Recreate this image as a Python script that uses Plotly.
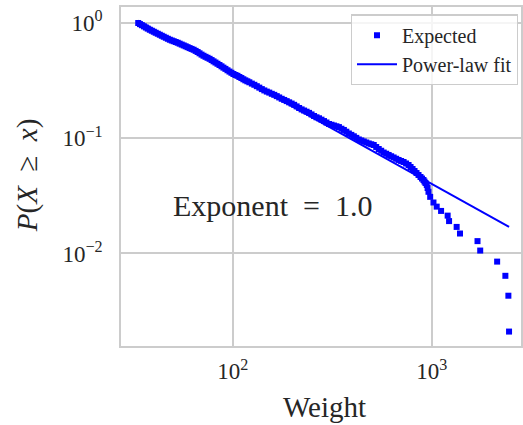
import numpy as np
import plotly.graph_objects as go

# Empirical complementary CDF of edge weights
weight = [33.5, 34.2, 34.95, 35.8, 36.6, 37.4, 38.3, 39.2, 40.1, 41.0,
          42.0, 43.0, 44.0, 45.0, 46.1, 47.2, 48.3, 49.4, 50.5, 51.7,
          52.9, 54.1, 55.4, 56.7, 58.0, 59.3, 60.7, 62.1, 63.6, 65.1,
          66.6, 68.1, 69.7, 71.3, 73.0, 74.7, 76.5, 78.3, 80.1, 81.9,
          83.8, 85.8, 87.8, 89.8, 91.9, 94.1, 96.3, 98.5, 100.8, 103.2,
          105.6, 108.0, 110.5, 113.1, 115.7, 118.4, 121.2, 124.7, 128.4, 132.1,
          136.0, 140.0, 144.1, 148.3, 152.6, 157.1, 161.7, 166.4, 171.2, 176.2,
          181.4, 186.7, 192.1, 197.7, 203.5, 209.5, 215.6, 221.9, 228.3, 235.0,
          241.8, 248.9, 256.2, 263.6, 271.3, 279.2, 287.4, 295.8, 304.5, 313.4,
          322.5, 331.9, 341.6, 351.6, 361.8, 372.3, 383.2, 394.4, 406.0, 417.8,
          430.0, 442.6, 455.5, 468.8, 482.5, 496.6, 511.1, 526.0, 541.4, 557.2,
          573.5, 590.3, 607.5, 625.2, 643.5, 662.3, 681.6, 701.5, 722.0, 743.1,
          764.8, 782.6, 800.8, 819.4, 838.5, 858.0, 878.0, 893.3, 908.9, 919.4,
          930.1, 944, 953, 963, 982, 1020, 1059, 1114, 1202, 1222,
          1334, 1387, 1698, 1752, 2131, 2344, 2427, 2446]
ccdf = [1.0, 0.978, 0.957, 0.935, 0.914, 0.894, 0.874, 0.857, 0.840, 0.823,
        0.807, 0.791, 0.775, 0.760, 0.745, 0.730, 0.716, 0.705, 0.695, 0.684,
        0.674, 0.662, 0.650, 0.639, 0.628, 0.617, 0.606, 0.596, 0.586, 0.573,
        0.560, 0.546, 0.532, 0.520, 0.509, 0.499, 0.489, 0.477, 0.465, 0.454,
        0.443, 0.432, 0.421, 0.410, 0.400, 0.389, 0.379, 0.370, 0.361, 0.354,
        0.348, 0.340, 0.333, 0.325, 0.318, 0.312, 0.306, 0.298, 0.291, 0.283,
        0.275, 0.267, 0.260, 0.254, 0.249, 0.243, 0.238, 0.232, 0.226, 0.220,
        0.215, 0.210, 0.205, 0.200, 0.195, 0.189, 0.183, 0.178, 0.174, 0.170,
        0.166, 0.161, 0.156, 0.152, 0.149, 0.145, 0.141, 0.137, 0.133, 0.131,
        0.129, 0.127, 0.125, 0.121, 0.118, 0.114, 0.110, 0.107, 0.104, 0.1008,
        0.0976, 0.0957, 0.0938, 0.0919, 0.0901, 0.0887, 0.0874, 0.0840, 0.0807, 0.0779,
        0.0752, 0.0734, 0.0716, 0.0698, 0.0681, 0.0664, 0.0648, 0.0635, 0.0622, 0.0604,
        0.0586, 0.0563, 0.0541, 0.0520, 0.0499, 0.0480, 0.0461, 0.0447, 0.0434, 0.0421,
        0.0409, 0.0393, 0.0370, 0.0343, 0.0310, 0.0277, 0.0255, 0.0234, 0.0213, 0.0191,
        0.0170, 0.0149, 0.0128, 0.0106, 0.0085, 0.0064, 0.0043, 0.0021]

# Power-law fit of the CCDF: P(X >= x) = scale * x^(-exponent)
fit_exponent = 0.96
fit_scale = 30.5

x_tick_vals = [100, 1000]
x_tick_text = ["10<sup>2</sup>", "10<sup>3</sup>"]
y_tick_vals = [1, 0.1, 0.01]
y_tick_text = ["10<sup>0</sup>", "10<sup>\u22121</sup>", "10<sup>\u22122</sup>"]

FONT = "Liberation Serif"
INK = "#262626"
GRID = "#cccccc"
BLUE = "#0000ff"

fit_x = np.array([min(weight), max(weight)])
fit_y = fit_scale * fit_x ** (-fit_exponent)

fig = go.Figure()
fig.add_trace(go.Scatter(
    x=fit_x, y=fit_y, mode="lines", name="Power-law fit",
    line=dict(color=BLUE, width=2), legendrank=2,
))
fig.add_trace(go.Scatter(
    x=weight, y=ccdf, mode="markers", name="Expected",
    marker=dict(symbol="square", size=6, color=BLUE, line=dict(width=0)),
    legendrank=1,
))

axis_common = dict(
    type="log", showgrid=True, gridcolor=GRID, gridwidth=1.5,
    showline=True, linecolor=GRID, linewidth=1.5, mirror=True,
    ticks="", zeroline=False,
    tickfont=dict(family=FONT, size=23, color=INK),
)

fig.update_layout(
    width=523, height=425,
    margin=dict(l=121, r=0, t=7, b=79),
    paper_bgcolor="white", plot_bgcolor="white",
    font=dict(family=FONT, color=INK),
    xaxis=dict(range=[1.4385, 3.4485], tickvals=x_tick_vals, ticktext=x_tick_text,
               ticklabelstandoff=4, **axis_common),
    yaxis=dict(range=[-2.803, 0.139], tickvals=y_tick_vals, ticktext=y_tick_text,
               ticklabelstandoff=12, **axis_common),
    legend=dict(
        x=0.992, xanchor="right", y=0.978, yanchor="top",
        bgcolor="rgba(255,255,255,0.8)", bordercolor=GRID, borderwidth=1.2,
        font=dict(family=FONT, size=20, color=INK), itemwidth=40,
    ),
    showlegend=True,
    annotations=[
        dict(text="Weight", xref="paper", yref="paper", x=0.5075, y=-0.180,
             xanchor="center", yanchor="middle", showarrow=False,
             font=dict(family=FONT, size=29, color=INK)),
        dict(text="<i>P</i>(<i>X</i>\u2002\u2265\u2002<i>x</i>)", xref="paper", yref="paper",
             x=-0.234, y=0.505, textangle=-90, xanchor="center", yanchor="middle",
             showarrow=False, font=dict(family=FONT, size=29, color=INK)),
        dict(text=f"Exponent\u2002=\u2002{fit_exponent:.1f}", xref="paper", yref="paper",
             x=0.1244, y=0.415, xanchor="left", yanchor="middle", showarrow=False,
             font=dict(family=FONT, size=30, color=INK)),
    ],
)

fig.write_html("out.html")
